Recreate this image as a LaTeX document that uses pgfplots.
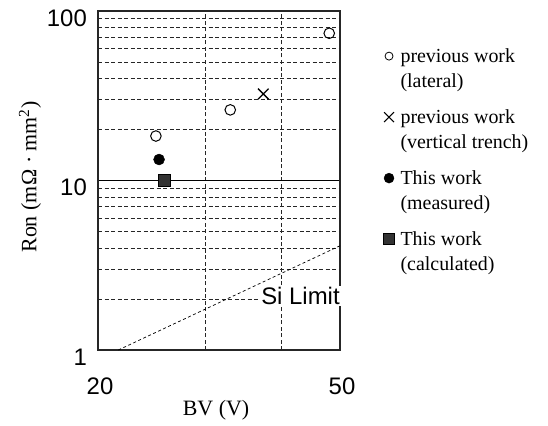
\documentclass[border=0pt]{standalone}
\usepackage{fontspec}
\setmainfont{Liberation Serif}
\setsansfont{Liberation Sans}
\usepackage{pgfplots}
\pgfplotsset{compat=1.18}
\begin{document}
\begin{tikzpicture}[x=1bp,y=1bp]
\useasboundingbox (-98,-75) rectangle (450,350);
\begin{axis}[
  at={(0,0)}, anchor=south west,
  scale only axis, width=242bp, height=339bp,
  xmode=log, ymode=log,
  xmin=20, xmax=50, ymin=1, ymax=100,
  xtick={20,50}, xticklabels={20,50},
  ytick={1,10,100}, yticklabels={1,10,100},
  minor xtick={30,40},
  minor ytick={2,3,4,5,6,7,8,9,20,30,40,50,60,70,80,90},
  major tick length=0pt, minor tick length=0pt,
  xminorgrids, yminorgrids, ymajorgrids,
  minor grid style={black!85, line width=0.8pt, dash pattern=on 4bp off 2.5bp},
  major grid style={black, line width=1pt},
  axis line style={line width=1.3pt, black!85},
  /pgf/number format/assume math mode=true,
  ticklabel style={font=\sffamily\fontsize{24}{28}\selectfont, inner sep=0pt},
  xticklabel style={anchor=center, yshift=-36bp, xshift=2bp},
  yticklabel style={anchor=east, xshift=-11bp, yshift=-7bp},
  xlabel={BV (V)}, ylabel={Ron (m\makebox[0.85em]{Ω}\makebox[0.75em]{·}mm\textsuperscript{2})},
  every axis x label/.style={at={(axis description cs:0.4876,-0.177)}, anchor=center, font=\fontsize{22}{26}\selectfont},
  every axis y label/.style={at={(axis description cs:-0.281,0.51)}, anchor=center, rotate=90, font=\fontsize{22}{26}\selectfont},
  clip=false,
  legend style={at={(axis description cs:1.179,0.897)}, anchor=north west,
    draw=none, fill=none, inner sep=0pt, row sep=15bp, column sep=0pt,
    font=\fontsize{20}{24}\selectfont,
    cells={anchor=base west},
    nodes={anchor=base west, inner xsep=6bp, inner ysep=0pt, text height=16bp, text depth=30bp}},
  legend image post style={yshift=6bp},
]
% Si limit
\addplot[forget plot, black, line width=0.7pt, dash pattern=on 3bp off 2.5bp] coordinates {(21.6,1) (50,4.12)};
\node[fill=white, inner sep=1.5bp, font=\sffamily\fontsize{24}{28}\selectfont] at (axis cs:43.05,2.08) {Si Limit};
% data
\addplot[forget plot, only marks, mark=o, mark size=5.3bp, mark options={line width=1pt, fill=white}] coordinates {(24.9,18.3) (33.0,26.1) (48.0,73.9)};
\addplot[forget plot, only marks, mark=x, mark size=7.5bp, mark options={line width=1.3pt}] coordinates {(37.4,32.4)};
\addplot[forget plot, only marks, mark=*, mark size=5.5bp] coordinates {(25.2,13.3)};
\addplot[forget plot, only marks, mark=square*, mark size=6bp, mark options={fill=black!80}] coordinates {(25.7,10.05)};
% legend
\addlegendimage{only marks, mark=o, mark size=4bp, mark options={line width=0.8pt}}
\addlegendentry{\begin{tabular}[t]{@{}l@{}}previous work\\[1bp](lateral)\end{tabular}}
\addlegendimage{only marks, mark=x, mark size=7bp, mark options={line width=1.1pt}}
\addlegendentry{\begin{tabular}[t]{@{}l@{}}previous work\\[1bp](vertical trench)\end{tabular}}
\addlegendimage{only marks, mark=*, mark size=5bp}
\addlegendentry{\begin{tabular}[t]{@{}l@{}}This work\\[1bp](measured)\end{tabular}}
\addlegendimage{only marks, mark=square*, mark size=5.5bp, mark options={fill=black!80}}
\addlegendentry{\begin{tabular}[t]{@{}l@{}}This work\\[1bp](calculated)\end{tabular}}
\end{axis}
\end{tikzpicture}
\end{document}
